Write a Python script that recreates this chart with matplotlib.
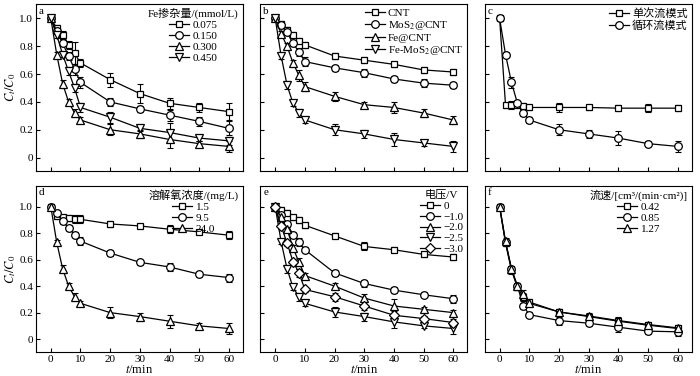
import matplotlib
matplotlib.use("Agg")
import matplotlib.pyplot as plt
import numpy as np

plt.rcParams['font.family'] = ['Liberation Serif', 'Noto Sans CJK SC']
plt.rcParams['mathtext.fontset'] = 'stix'
plt.rcParams['font.size'] = 8

t = [0, 2, 4, 6, 8, 10, 20, 30, 40, 50, 60]

# Panel a: Fe doping amount
a_labels = ['0.075', '0.150', '0.300', '0.450']
a_title = 'Fe掺杂量/(mmol/L)'
a_075 = [1.0, 0.93, 0.88, 0.81, 0.75, 0.68, 0.56, 0.46, 0.39, 0.36, 0.33]
a_150 = [1.0, 0.91, 0.82, 0.73, 0.635, 0.54, 0.40, 0.35, 0.305, 0.26, 0.21]
a_300 = [1.0, 0.74, 0.53, 0.40, 0.32, 0.27, 0.20, 0.17, 0.13, 0.10, 0.08]
a_450 = [1.0, 0.88, 0.74, 0.62, 0.50, 0.36, 0.29, 0.21, 0.18, 0.14, 0.12]
a_075_err = [0.01, 0.02, 0.03, 0.03, 0.08, 0.03, 0.05, 0.07, 0.04, 0.03, 0.06]
a_150_err = [0.01, 0.02, 0.02, 0.03, 0.04, 0.04, 0.03, 0.02, 0.04, 0.03, 0.05]
a_300_err = [0.01, 0.02, 0.03, 0.02, 0.03, 0.02, 0.04, 0.03, 0.06, 0.02, 0.04]
a_450_err = [0.01, 0.02, 0.02, 0.03, 0.03, 0.03, 0.04, 0.02, 0.07, 0.02, 0.03]

# Panel b: materials
b_labels = ['CNT', 'MoS$_2$@CNT', 'Fe@CNT', 'Fe-MoS$_2$@CNT']
b_cnt = [1.0, 0.96, 0.92, 0.88, 0.84, 0.81, 0.73, 0.70, 0.67, 0.63, 0.615]
b_mos2 = [1.0, 0.95, 0.90, 0.82, 0.76, 0.69, 0.645, 0.61, 0.565, 0.535, 0.52]
b_fe = [1.0, 0.89, 0.80, 0.68, 0.59, 0.51, 0.44, 0.38, 0.36, 0.32, 0.27]
b_femos2 = [1.0, 0.73, 0.52, 0.39, 0.32, 0.27, 0.20, 0.17, 0.13, 0.105, 0.08]
b_cnt_err = [0.01, 0.02, 0.02, 0.02, 0.02, 0.02, 0.02, 0.02, 0.02, 0.02, 0.02]
b_mos2_err = [0.01, 0.02, 0.02, 0.02, 0.03, 0.03, 0.02, 0.03, 0.02, 0.03, 0.02]
b_fe_err = [0.01, 0.02, 0.02, 0.02, 0.04, 0.03, 0.03, 0.02, 0.04, 0.03, 0.03]
b_femos2_err = [0.01, 0.02, 0.03, 0.02, 0.03, 0.02, 0.04, 0.03, 0.05, 0.02, 0.04]

# Panel c: flow modes
c_labels = ['单次流模式', '循环流模式']
c_single = [1.0, 0.375, 0.38, 0.38, 0.37, 0.36, 0.36, 0.36, 0.355, 0.355, 0.355]
c_cycle = [1.0, 0.74, 0.54, 0.39, 0.32, 0.27, 0.20, 0.17, 0.14, 0.10, 0.08]
c_single_err = [0.01, 0.02, 0.03, 0.02, 0.02, 0.02, 0.03, 0.02, 0.02, 0.03, 0.02]
c_cycle_err = [0.01, 0.02, 0.04, 0.02, 0.02, 0.02, 0.04, 0.03, 0.05, 0.02, 0.04]

# Panel d: dissolved oxygen
d_labels = ['1.5', '9.5', '24.0']
d_title = '溶解氧浓度/(mg/L)'
d_15 = [1.0, 0.93, 0.92, 0.915, 0.91, 0.905, 0.87, 0.855, 0.83, 0.81, 0.785]
d_95 = [1.0, 0.95, 0.89, 0.84, 0.79, 0.74, 0.65, 0.58, 0.545, 0.49, 0.465]
d_240 = [1.0, 0.73, 0.53, 0.40, 0.32, 0.27, 0.20, 0.17, 0.135, 0.10, 0.08]
d_15_err = [0.01, 0.02, 0.02, 0.02, 0.03, 0.03, 0.02, 0.01, 0.03, 0.01, 0.03]
d_95_err = [0.01, 0.02, 0.02, 0.02, 0.02, 0.03, 0.02, 0.02, 0.03, 0.02, 0.03]
d_240_err = [0.01, 0.02, 0.03, 0.02, 0.03, 0.02, 0.04, 0.03, 0.05, 0.02, 0.04]

# Panel e: voltage
e_labels = ['0', '\u22121.0', '\u22122.0', '\u22122.5', '\u22123.0']
e_title = '电压/V'
e_0 = [1.0, 0.975, 0.955, 0.92, 0.90, 0.86, 0.78, 0.70, 0.675, 0.64, 0.62]
e_10 = [1.0, 0.94, 0.87, 0.79, 0.735, 0.675, 0.50, 0.42, 0.37, 0.335, 0.305]
e_20 = [1.0, 0.92, 0.83, 0.69, 0.58, 0.48, 0.40, 0.31, 0.25, 0.225, 0.20]
e_25 = [1.0, 0.735, 0.53, 0.39, 0.32, 0.27, 0.205, 0.17, 0.13, 0.10, 0.08]
e_30 = [1.0, 0.855, 0.725, 0.585, 0.50, 0.375, 0.32, 0.25, 0.18, 0.155, 0.125]
e_0_err = [0.01, 0.02, 0.02, 0.02, 0.02, 0.02, 0.02, 0.03, 0.02, 0.02, 0.02]
e_10_err = [0.01, 0.02, 0.02, 0.02, 0.03, 0.02, 0.02, 0.03, 0.02, 0.02, 0.03]
e_20_err = [0.01, 0.02, 0.02, 0.02, 0.03, 0.02, 0.02, 0.03, 0.05, 0.02, 0.02]
e_25_err = [0.01, 0.02, 0.03, 0.02, 0.03, 0.02, 0.04, 0.03, 0.05, 0.02, 0.04]
e_30_err = [0.01, 0.02, 0.02, 0.02, 0.03, 0.02, 0.03, 0.03, 0.03, 0.02, 0.03]

# Panel f: flow velocity
f_labels = ['0.42', '0.85', '1.27']
f_title = '流速/[cm\u00b3/(min\u00b7cm\u00b2)]'
f_042 = [1.0, 0.725, 0.52, 0.39, 0.32, 0.28, 0.205, 0.17, 0.135, 0.105, 0.08]
f_085 = [1.0, 0.73, 0.53, 0.40, 0.25, 0.185, 0.14, 0.12, 0.09, 0.06, 0.055]
f_127 = [1.0, 0.74, 0.53, 0.40, 0.34, 0.27, 0.205, 0.175, 0.14, 0.11, 0.085]
f_042_err = [0.01, 0.02, 0.03, 0.02, 0.03, 0.02, 0.02, 0.02, 0.03, 0.02, 0.03]
f_085_err = [0.01, 0.02, 0.02, 0.02, 0.02, 0.02, 0.03, 0.02, 0.04, 0.02, 0.03]
f_127_err = [0.01, 0.02, 0.02, 0.02, 0.03, 0.02, 0.02, 0.02, 0.02, 0.02, 0.02]

markers = ['s', 'o', '^', 'v', 'D']
msizes = [5, 5.5, 6, 6, 4.8]

panels = [
    ('a', [a_075, a_150, a_300, a_450], [a_075_err, a_150_err, a_300_err, a_450_err], a_labels, a_title),
    ('b', [b_cnt, b_mos2, b_fe, b_femos2], [b_cnt_err, b_mos2_err, b_fe_err, b_femos2_err], b_labels, None),
    ('c', [c_single, c_cycle], [c_single_err, c_cycle_err], c_labels, None),
    ('d', [d_15, d_95, d_240], [d_15_err, d_95_err, d_240_err], d_labels, d_title),
    ('e', [e_0, e_10, e_20, e_25, e_30], [e_0_err, e_10_err, e_20_err, e_25_err, e_30_err], e_labels, e_title),
    ('f', [f_042, f_085, f_127], [f_042_err, f_085_err, f_127_err], f_labels, f_title),
]

fig, axes = plt.subplots(2, 3, figsize=(7.0, 3.76), dpi=100)
fig.subplots_adjust(left=0.0514, right=0.988, top=0.989, bottom=0.063,
                    wspace=0.085, hspace=0.088)

for idx, (letter, series, errs, labels, title) in enumerate(panels):
    ax = axes.flat[idx]
    row, col = divmod(idx, 3)
    for k, (y, e, lab) in enumerate(zip(series, errs, labels)):
        ax.errorbar(t, y, yerr=e, fmt='none', ecolor='black', elinewidth=0.8,
                    capsize=2, capthick=0.8, zorder=2)
        ax.plot(t, y, marker=markers[k], ms=msizes[k], mfc='white', mec='black',
                mew=0.9, color='black', lw=0.9, label=lab, zorder=3)
    ax.set_xlim(-5, 64.7)
    if row == 0:
        ax.set_ylim(-0.096, 1.103)
    else:
        ax.set_ylim(-0.10, 1.16)
    ax.set_xticks([0, 10, 20, 30, 40, 50, 60])
    ax.set_yticks([0, 0.2, 0.4, 0.6, 0.8, 1.0])
    ax.tick_params(direction='in', length=3, width=0.8, top=False, right=False,
                   labelsize=8, pad=2)
    if col == 0:
        ax.set_yticklabels(['0', '0.2', '0.4', '0.6', '0.8', '1.0'])
        ax.set_ylabel('$C_t/C_0$', fontsize=9, labelpad=1)
    else:
        ax.set_yticklabels([])
    if row == 1:
        ax.set_xlabel('$t$/min', fontsize=9, labelpad=0)
    else:
        ax.set_xticklabels([])
    for sp in ax.spines.values():
        sp.set_linewidth(0.8)
    ax.text(0.015, 0.985, letter, transform=ax.transAxes, ha='left', va='top', fontsize=8)
    ax.legend(loc='upper right', frameon=False, title=title, fontsize=8,
              title_fontsize=8, handlelength=1.8, handletextpad=0.3,
              labelspacing=0.1, borderaxespad=0.15, borderpad=0.2)

fig.savefig('out.png', dpi=100)
